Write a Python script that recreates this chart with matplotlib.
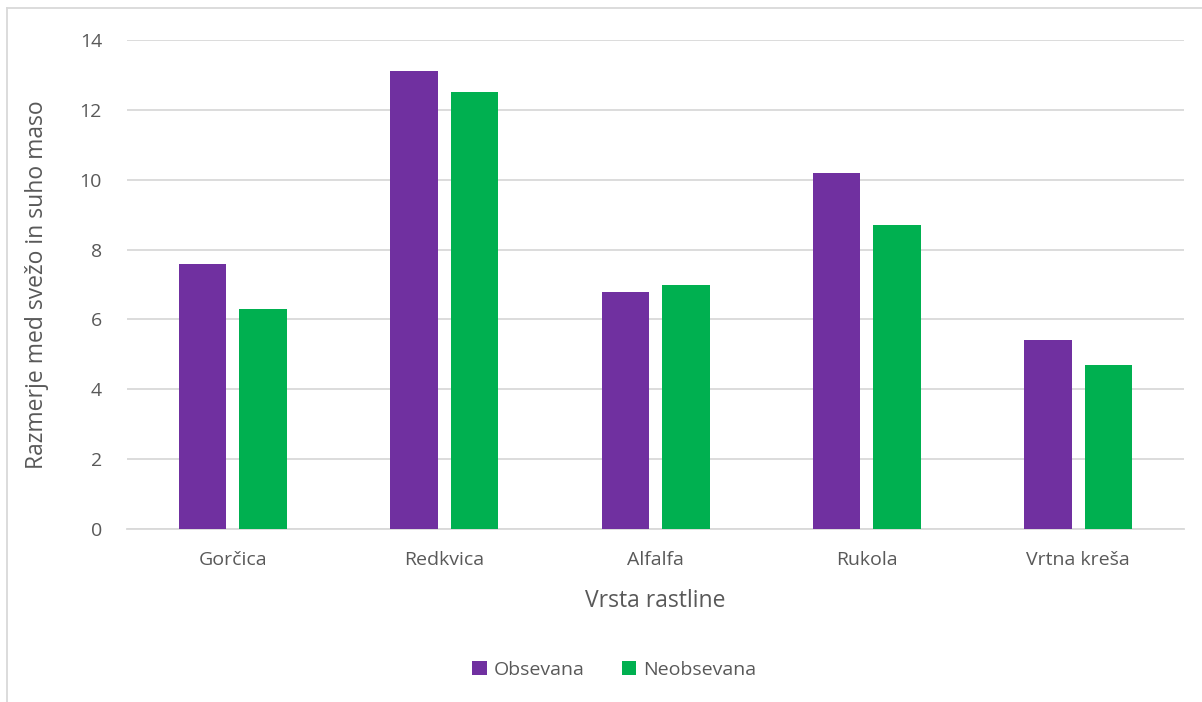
import matplotlib
matplotlib.use("Agg")
import matplotlib.pyplot as plt
import numpy as np

plt.rcParams['font.family'] = ['Open Sans', 'DejaVu Sans']

# Data
categories = ['Gorčica', 'Redkvica', 'Alfalfa', 'Rukola', 'Vrtna kreša']
obsevana = [7.6, 13.1, 6.8, 10.2, 5.4]
neobsevana = [6.3, 12.5, 7.0, 8.7, 4.7]
yticks = [0, 2, 4, 6, 8, 10, 12, 14]

text_color = '#595959'
grid_color = '#D9D9D9'

fig = plt.figure(figsize=(12.02, 7.02), dpi=100)
ax = fig.add_axes([0.1057, 0.2464, 0.8793, 0.6966])

x = np.arange(len(categories))
w = 0.225
off = 0.143
ax.bar(x - off, obsevana, w, color='#7030A0', label='Obsevana', zorder=3)
ax.bar(x + off, neobsevana, w, color='#00B050', label='Neobsevana', zorder=3)

ax.set_xlim(-0.5, len(categories) - 0.5)
ax.set_ylim(0, 14)
ax.set_yticks(yticks)
ax.set_xticks(x)
ax.set_xticklabels(categories)
ax.grid(axis='y', color=grid_color, linewidth=1.3, zorder=0)
ax.tick_params(axis='both', length=0, labelsize=14, colors=text_color)
ax.tick_params(axis='y', pad=18)
ax.tick_params(axis='x', pad=16)
for s in ['top', 'right', 'left']:
    ax.spines[s].set_visible(False)
ax.spines['bottom'].set_color(grid_color)
ax.spines['bottom'].set_linewidth(1.3)

ax.set_xlabel('Vrsta rastline', fontsize=16.5, color=text_color, labelpad=14)
ax.set_ylabel('Razmerje med svežo in suho maso', fontsize=16.5, color=text_color, labelpad=22)

ax.legend(loc='center', bbox_to_anchor=(0.461, -0.288), ncol=2, frameon=False,
          fontsize=14, labelcolor=text_color, handlelength=0.75, handleheight=0.75,
          handletextpad=0.35, columnspacing=1.9)

# chart frame (only top and left edges visible in the reference)
fig.add_artist(plt.Line2D([0.006, 1.0], [0.989, 0.989], color=grid_color, linewidth=1.3))
fig.add_artist(plt.Line2D([0.006, 0.006], [0.0, 0.989], color=grid_color, linewidth=1.3))

fig.savefig('out.png', dpi=100, facecolor='white')
